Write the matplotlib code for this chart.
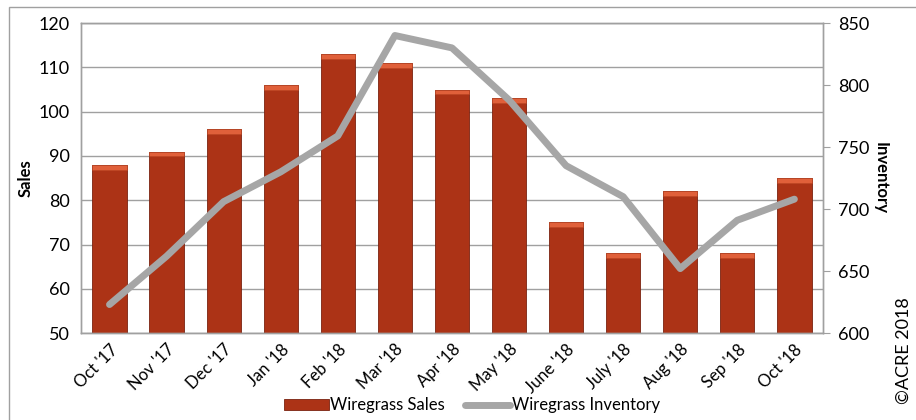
import matplotlib.pyplot as plt
import numpy as np
from matplotlib.patches import Rectangle

months = ["Oct '17", "Nov '17", "Dec '17", "Jan '18", "Feb '18", "Mar '18", "Apr '18",
          "May '18", "June '18", "July '18", "Aug '18", "Sep '18", "Oct '18"]
sales = [88, 91, 96, 106, 113, 111, 105, 103, 75, 68, 82, 68, 85]
inventory = [623, 662, 706, 730, 759, 840, 830, 788, 735, 710, 652, 691, 708]

plt.rcParams['font.family'] = ['Lato', 'DejaVu Sans']

fig = plt.figure(figsize=(9.16, 4.2), dpi=100)
ax = fig.add_axes([0.0884, 0.207, 0.81, 0.738])
ax2 = ax.twinx()

x = np.arange(len(months))
grid_c = '#A0A0A0'

# bars, with a lighter bevel on top
ax.bar(x, np.array(sales) - 50, bottom=50, width=0.6, color='#AC3316',
       edgecolor='#7A2210', linewidth=0.6, zorder=2, label='Wiregrass Sales')
ax.bar(x, 1.1, bottom=np.array(sales) - 1.1, width=0.6, color='#E0603A',
       edgecolor='#B84422', linewidth=0.4, zorder=3)

ax2.plot(x, inventory, color='#A6A6A6', linewidth=5, solid_capstyle='round',
         solid_joinstyle='round', zorder=4, label='Wiregrass Inventory')

ax.set_ylim(50, 120)
ax.set_yticks(range(50, 121, 10))
ax2.set_ylim(600, 850)
ax2.set_yticks(range(600, 851, 50))
ax.set_xlim(-0.5, len(months) - 0.5)
ax.set_xticks(x)
ax.set_xticklabels(months, rotation=45, ha='right', rotation_mode='anchor')

ax.yaxis.grid(True, color=grid_c, linewidth=1, zorder=0)
ax.set_axisbelow(True)
for a in (ax, ax2):
    for s in a.spines.values():
        s.set_color(grid_c)
        s.set_linewidth(1)
ax.tick_params(axis='y', length=0, labelsize=13, pad=8)
ax.tick_params(axis='x', length=0, labelsize=12, pad=6)
ax2.tick_params(axis='y', length=5, color=grid_c, labelsize=13, pad=6)

ax.set_ylabel('Sales', fontsize=12, fontweight='bold', labelpad=4)
ax2.set_ylabel('Inventory', fontsize=12, fontweight='bold', rotation=270, labelpad=14)

ax.patch.set_visible(False)
ax.set_zorder(1)
ax2.set_zorder(2)

h1, l1 = ax.get_legend_handles_labels()
h2, l2 = ax2.get_legend_handles_labels()
fig.legend(h1 + h2, l1 + l2, loc='lower center', bbox_to_anchor=(0.515, -0.02), ncol=2,
           frameon=False, fontsize=12, handlelength=2.7, handletextpad=0.1, columnspacing=1.2)

fig.text(0.987, 0.165, '©ACRE 2018', rotation=90, fontsize=13, ha='center', va='center')

# outer chart border
fig.patches.append(Rectangle((0.01, -0.05), 1.2, 1.033, transform=fig.transFigure,
                             fill=False, edgecolor=grid_c, linewidth=1))

fig.savefig('out.png', dpi=100)
